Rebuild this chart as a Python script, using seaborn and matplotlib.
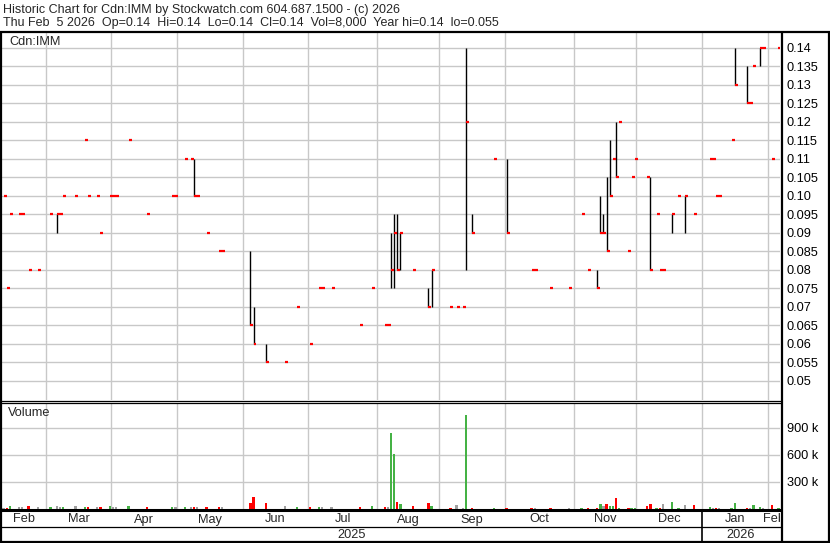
import numpy as np
import pandas as pd
import matplotlib
matplotlib.use('Agg')
import matplotlib.pyplot as plt
from matplotlib.lines import Line2D
import seaborn as sns

# Trading calendar shown on the chart (Feb 10 2025 .. Feb 5 2026, TSX holidays removed)
holidays = ['2025-02-17', '2025-04-18', '2025-05-19', '2025-07-01', '2025-08-04',
            '2025-09-01', '2025-10-13', '2025-12-25', '2025-12-26', '2026-01-01']
sessions = pd.bdate_range('2025-02-10', '2026-02-05')
sessions = sessions[~sessions.isin(pd.to_datetime(holidays))]

# Days with trades (session number), daily high / low / close and volume (shares)
day = [0, 1, 2, 5, 6, 8, 11, 15, 17, 18, 19, 23, 26, 27, 30, 31, 34, 35, 36, 40,
       46, 54, 55, 58, 60, 61, 62, 65, 69, 70, 79, 80, 84, 90, 94, 98, 101, 102, 105, 114,
       118, 122, 123, 124, 125, 126, 127, 131, 136, 137, 143, 145, 147, 148, 150, 157, 161, 169, 170, 175,
       181, 185, 187, 190, 191, 192, 193, 194, 195, 196, 197, 200, 201, 202, 206, 207, 209, 210, 211, 214,
       216, 218, 221, 226, 227, 228, 229, 233, 234, 238, 239, 240, 242, 243, 246, 248]
high = [0.10, 0.075, 0.095, 0.095, 0.095, 0.08, 0.08, 0.095, 0.095, 0.095, 0.10, 0.10, 0.115, 0.10, 0.10, 0.09, 0.10, 0.10, 0.10, 0.115,
        0.095, 0.10, 0.10, 0.11, 0.11, 0.11, 0.10, 0.09, 0.085, 0.085, 0.085, 0.07, 0.06, 0.055, 0.07, 0.06, 0.075, 0.075, 0.075, 0.065,
        0.075, 0.065, 0.065, 0.09, 0.095, 0.095, 0.09, 0.08, 0.075, 0.08, 0.07, 0.07, 0.07, 0.14, 0.095, 0.11, 0.11, 0.08, 0.08, 0.075,
        0.075, 0.095, 0.08, 0.08, 0.10, 0.095, 0.105, 0.115, 0.11, 0.12, 0.12, 0.085, 0.105, 0.11, 0.105, 0.105, 0.095, 0.08, 0.08, 0.095,
        0.10, 0.10, 0.095, 0.11, 0.11, 0.10, 0.10, 0.115, 0.14, 0.135, 0.125, 0.135, 0.14, 0.14, 0.11, 0.14]
low = [0.10, 0.075, 0.095, 0.095, 0.095, 0.08, 0.08, 0.095, 0.09, 0.095, 0.10, 0.10, 0.115, 0.10, 0.10, 0.09, 0.10, 0.10, 0.10, 0.115,
       0.095, 0.10, 0.10, 0.11, 0.11, 0.10, 0.10, 0.09, 0.085, 0.085, 0.065, 0.06, 0.055, 0.055, 0.07, 0.06, 0.075, 0.075, 0.075, 0.065,
       0.075, 0.065, 0.065, 0.075, 0.075, 0.08, 0.08, 0.08, 0.07, 0.07, 0.07, 0.07, 0.07, 0.08, 0.09, 0.11, 0.09, 0.08, 0.08, 0.075,
       0.075, 0.095, 0.08, 0.075, 0.09, 0.09, 0.085, 0.10, 0.11, 0.105, 0.12, 0.085, 0.105, 0.11, 0.105, 0.08, 0.095, 0.08, 0.08, 0.09,
       0.10, 0.09, 0.095, 0.11, 0.11, 0.10, 0.10, 0.115, 0.13, 0.125, 0.125, 0.135, 0.135, 0.14, 0.11, 0.14]
close = [0.10, 0.075, 0.095, 0.095, 0.095, 0.08, 0.08, 0.095, 0.095, 0.095, 0.10, 0.10, 0.115, 0.10, 0.10, 0.09, 0.10, 0.10, 0.10, 0.115,
         0.095, 0.10, 0.10, 0.11, 0.11, 0.10, 0.10, 0.09, 0.085, 0.085, 0.065, 0.06, 0.055, 0.055, 0.07, 0.06, 0.075, 0.075, 0.075, 0.065,
         0.075, 0.065, 0.065, 0.08, 0.09, 0.08, 0.09, 0.08, 0.07, 0.08, 0.07, 0.07, 0.07, 0.12, 0.09, 0.11, 0.09, 0.08, 0.08, 0.075,
         0.075, 0.095, 0.08, 0.075, 0.09, 0.09, 0.085, 0.10, 0.11, 0.105, 0.12, 0.085, 0.105, 0.11, 0.105, 0.08, 0.095, 0.08, 0.08, 0.095,
         0.10, 0.10, 0.095, 0.11, 0.11, 0.10, 0.10, 0.115, 0.13, 0.125, 0.125, 0.135, 0.14, 0.14, 0.11, 0.14]
volume = [10000, 10000, 26000, 15000, 15000, 26000, 15000, 15000, 26000, 15000, 15000, 26000, 15000, 15000, 15000, 15000, 26000, 12000, 12000, 26000,
          15000, 15000, 12000, 15000, 12000, 15000, 12000, 15000, 15000, 12000, 61000, 126000, 61000, 26000, 15000, 15000, 15000, 12000, 12000, 15000,
          26000, 15000, 12000, 847000, 607000, 75000, 50000, 23000, 61000, 23000, 11000, 38000, 11000, 1045000, 11000, 11000, 11000, 11000, 8000, 11000,
          11000, 11000, 11000, 11000, 49000, 23000, 49000, 23000, 23000, 115000, 11000, 11000, 11000, 11000, 23000, 49000, 11000, 11000, 49000, 72000,
          11000, 38000, 38000, 15000, 11000, 11000, 11000, 11000, 61000, 11000, 11000, 38000, 15000, 11000, 38000, 8000]

price_ticks = [0.05, 0.055, 0.06, 0.065, 0.07, 0.075, 0.08, 0.085, 0.09, 0.095,
               0.10, 0.105, 0.11, 0.115, 0.12, 0.125, 0.13, 0.135, 0.14]
volume_ticks = [300000, 600000, 900000]
volume_labels = ['300 k', '600 k', '900 k']

header1 = 'Historic Chart for Cdn:IMM by Stockwatch.com 604.687.1500 - (c) 2026'
header2 = 'Thu Feb  5 2026  Op=0.14  Hi=0.14  Lo=0.14  Cl=0.14  Vol=8,000  Year hi=0.14  lo=0.055'

sns.set_theme(style='white')
plt.rcParams['font.family'] = ['Liberation Sans', 'DejaVu Sans']

df = pd.DataFrame({'day': day, 'high': high, 'low': low, 'close': close, 'volume': volume})
chg = df['close'].diff().fillna(0)
df['move'] = np.where(chg > 1e-9, 'up', np.where(chg < -1e-9, 'down', 'flat'))
move_colors = {'up': '#45b245', 'down': '#ff0000', 'flat': '#a0a0a0'}

# month boundaries from the trading calendar
months = sessions.to_period('M')
starts = [0] + [i for i in range(1, len(sessions)) if months[i] != months[i - 1]]
ends = starts[1:] + [len(sessions)]
bounds = [s - 0.5 for s in starts[1:]]
xlim = (-0.5, len(sessions) - 0.5)

W, H = 830, 543
fig = plt.figure(figsize=(W / 100, H / 100), dpi=100)
fig.patch.set_facecolor('white')


def box(x0, y0, x1, y1):
    return [x0 / W, 1 - y1 / H, (x1 - x0) / W, (y1 - y0) / H]


grid_kw = dict(color='#c8c8c8', lw=1.0)
fs = 9.0

# price panel
axp = fig.add_axes(box(2, 33, 780, 400))
rng = df[df['high'] > df['low']]
axp.vlines(rng['day'], rng['low'], rng['high'], color='black', lw=1.0, zorder=3)
axp.hlines(df['close'], df['day'], df['day'] + 0.95, color='#ff0000', lw=1.6, zorder=4)
axp.set_xlim(xlim)
axp.set_ylim(0.04486, 0.14405)
axp.set_xticks(bounds)
axp.set_yticks(price_ticks)
axp.set_yticklabels([f'{v:.3f}'[:-1] if f'{v:.3f}'.endswith('0') else f'{v:.3f}' for v in price_ticks])
axp.yaxis.tick_right()
axp.tick_params(axis='y', length=0, pad=5, labelsize=9.2, colors='black')
axp.tick_params(axis='x', length=0, labelbottom=False)
axp.grid(True, **grid_kw)
axp.set_frame_on(False)

# volume panel
axv = fig.add_axes(box(2, 403, 780, 508.5))
sns.barplot(data=df, x='day', y='volume', hue='move', palette=move_colors, native_scale=True,
            dodge=False, width=0.75, errorbar=None, legend=False, saturation=1, ax=axv,
            zorder=3, linewidth=0, antialiased=False)
axv.set_xlim(xlim)
axv.set_ylim(0, 1178000)
axv.set_xticks(bounds)
axv.set_yticks(volume_ticks)
axv.set_yticklabels(volume_labels)
axv.yaxis.tick_right()
axv.tick_params(axis='y', length=0, pad=5, labelsize=9.2, colors='black')
axv.tick_params(axis='x', length=0, labelbottom=False)
axv.set_xlabel('')
axv.set_ylabel('')
axv.grid(True, **grid_kw)
axv.set_axisbelow(True)
axv.set_frame_on(False)

# month / year rows
axm = fig.add_axes(box(2, 509, 780, 541))
axm.set_xlim(xlim)
axm.set_ylim(541, 509)
axm.axis('off')
for s, e in zip(starts, ends):
    axm.text((s + e - 1) / 2, 519.5, sessions[s].strftime('%b'), ha='center', va='center',
             fontsize=9.2, clip_on=True)
years = sessions.year
ystarts = [0] + [i for i in range(1, len(sessions)) if years[i] != years[i - 1]]
yends = ystarts[1:] + [len(sessions)]
for s, e in zip(ystarts, yends):
    axm.text((s + e - 1) / 2, 534.5, str(years[s]), ha='center', va='center', fontsize=9.2)
for s in ystarts[1:]:
    axm.axvline(s - 0.5, color='black', lw=1.2)

# header and panel captions
fig.text(3 / W, 1 - 9.5 / H, header1, fontsize=fs, va='center', ha='left')
fig.text(3 / W, 1 - 23 / H, header2, fontsize=fs, va='center', ha='left')
fig.text(9 / W, 1 - 42 / H, 'Cdn:IMM', fontsize=9.2, va='center', ha='left')
fig.text(8 / W, 1 - 413 / H, 'Volume', fontsize=9.2, va='center', ha='left')


def rule(x0, y0, x1, y1, lw):
    fig.add_artist(Line2D([x0 / W, x1 / W], [1 - y0 / H, 1 - y1 / H],
                          transform=fig.transFigure, color='black', lw=lw, solid_capstyle='butt'))


rule(0, 32, 830, 32, 1.6)
rule(1, 31, 1, 543, 1.6)
rule(781.5, 31, 781.5, 541, 1.6)
rule(829, 31, 829, 543, 1.6)
rule(0, 400.5, 781, 400.5, 0.9)
rule(0, 403, 781, 403, 0.9)
rule(0, 510, 781, 510, 2.2)
rule(0, 527, 781, 527, 0.9)
rule(0, 541.5, 830, 541.5, 1.6)

fig.savefig('out.png', dpi=100, facecolor='white')
